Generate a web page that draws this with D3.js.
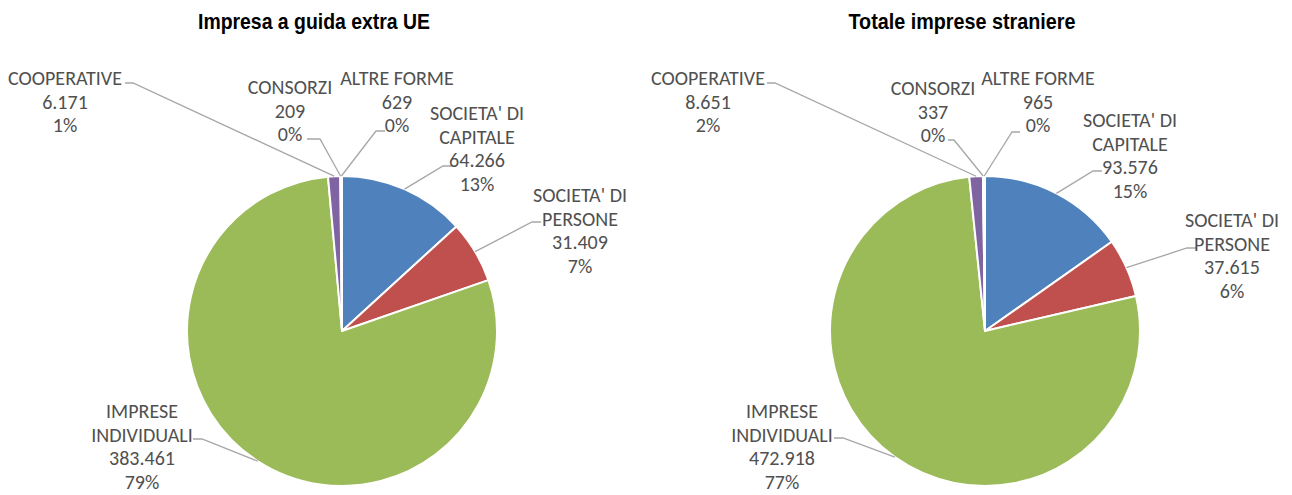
<!DOCTYPE html>
<html>
<head>
<meta charset="utf-8">
<script src="https://cdn.jsdelivr.net/npm/d3@7"></script>
<style>
  body { margin: 0; background: #fff; }
  svg text { font-family: Carlito, Lato, "Open Sans", sans-serif; fill: #505050; }
  svg text.titolo { font-family: "Liberation Sans Narrow", "Arial Narrow", "Liberation Sans", sans-serif; font-weight: bold; fill: #000; }
</style>
</head>
<body>
<div id="viz"></div>
<script>
var categorie = ["SOCIETA' DI CAPITALE", "SOCIETA' DI PERSONE", "IMPRESE INDIVIDUALI",
                 "COOPERATIVE", "CONSORZI", "ALTRE FORME"];
var righeEtichetta = [["SOCIETA' DI", "CAPITALE"], ["SOCIETA' DI", "PERSONE"], ["IMPRESE", "INDIVIDUALI"],
                      ["COOPERATIVE"], ["CONSORZI"], ["ALTRE FORME"]];
var valoriExtraUE = [64266, 31409, 383461, 6171, 209, 629];
var valoriTotale = [93576, 37615, 472918, 8651, 337, 965];
var titoli = ["Impresa a guida extra UE", "Totale imprese straniere"];
var colori = ["#4F81BD", "#C0504D", "#9BBB59", "#8064A2", "#4BACC6", "#F79646"];

// label placement (free-form like in the original): [centre x, first line y, attach x, attach y, elbow x]
var posExtraUE = [[477, 113, 452, 166, 443], [580, 195, 541, 222, 532], [142, 411, 193, 439, 202],
                  [65, 78, 125, 83, 133], [290, 87, 307, 139, 320], [397, 78, 385, 131, 376]];
var posTotale = [[1130, 120, 1102, 171, 1093], [1232, 220, 1196, 248, 1187], [782, 411, 834, 438, 843],
                 [708, 78, 767, 83, 775], [933, 88, 948, 140, 954], [1038, 78, 1020, 132, 1012]];

var width = 1292,
    height = 495,
    raggio = 155,
    interlinea = 23.6;

var it = d3.formatLocale({decimal: ",", thousands: ".", grouping: [3], currency: ["€", ""]});
var fmt = it.format(",d");

var svg = d3.select("#viz").append("svg")
    .attr("width", width)
    .attr("height", height);

// fit label font size so the text width matches the original (Calibri-like)
var prova = svg.append("text").attr("font-size", 20).text("COOPERATIVE");
var fontSize = 20 * 114 / prova.node().getComputedTextLength();
prova.remove();

// percentages rounded so that they add up to 100, as Excel does
function percentuali(valori) {
  var tot = d3.sum(valori);
  var esatti = valori.map(function(v) { return v / tot * 100; });
  var base = esatti.map(Math.floor);
  var resto = 100 - d3.sum(base);
  d3.range(valori.length)
    .sort(function(a, b) { return (esatti[b] - base[b]) - (esatti[a] - base[a]); })
    .slice(0, resto)
    .forEach(function(i) { base[i] += 1; });
  return base;
}

var pie = d3.pie().sort(null).value(function(d) { return d; });
var arc = d3.arc().innerRadius(0).outerRadius(raggio);

function disegna(valori, titolo, pos, cx, cy, titoloX, titoloW) {
  var g = svg.append("g");
  var perc = percentuali(valori);

  g.append("text")
      .attr("class", "titolo")
      .attr("x", titoloX)
      .attr("y", 29)
      .attr("text-anchor", "middle")
      .attr("font-size", 22.5)
      .attr("textLength", titoloW)
      .attr("lengthAdjust", "spacingAndGlyphs")
      .text(titolo);

  var archi = pie(valori);

  g.append("g")
      .attr("transform", "translate(" + cx + "," + cy + ")")
    .selectAll("path")
    .data(archi)
    .enter().append("path")
      .attr("d", arc)
      .attr("fill", function(d, i) { return colori[i]; })
      .attr("stroke", "#fff")
      .attr("stroke-width", 2)
      .attr("stroke-linejoin", "round");

  // leader lines
  g.selectAll("polyline")
    .data(archi)
    .enter().append("polyline")
      .attr("fill", "none")
      .attr("stroke", "#a6a6a6")
      .attr("stroke-width", 1.3)
      .attr("points", function(d, i) {
        var a = (d.startAngle + d.endAngle) / 2;
        var px = cx + raggio * Math.sin(a),
            py = cy - raggio * Math.cos(a);
        var p = pos[i];
        return [[p[2], p[3]], [p[4], p[3]], [px, py]].join(" ");
      });

  // labels
  var lab = g.selectAll("text.etichetta")
    .data(archi)
    .enter().append("text")
      .attr("class", "etichetta")
      .attr("text-anchor", "middle")
      .attr("font-size", fontSize);

  lab.each(function(d, i) {
    var righe = righeEtichetta[i].concat([fmt(valori[i]), perc[i] + "%"]);
    var t = d3.select(this);
    righe.forEach(function(r, k) {
      t.append("tspan")
          .attr("x", pos[i][0])
          .attr("y", pos[i][1] + k * interlinea)
          .attr("dy", "0.35em")
          .text(r);
    });
  });
}

disegna(valoriExtraUE, titoli[0], posExtraUE, 342, 331, 314, 232);
disegna(valoriTotale, titoli[1], posTotale, 985, 331, 962, 227);
</script>
</body>
</html>
